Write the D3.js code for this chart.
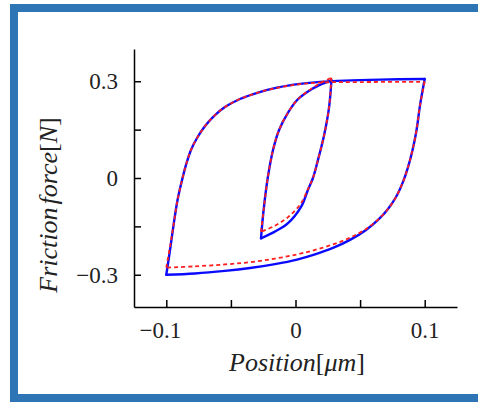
<!DOCTYPE html>
<html>
<head>
<meta charset="utf-8">
<script src="https://cdn.jsdelivr.net/npm/d3@7"></script>
<style>
  html, body { margin: 0; padding: 0; background: #fff; }
  #chart { width: 478px; height: 402px; }
  .axis path, .axis line { stroke: #000; stroke-width: 1.5; }
  .axis text { font-family: "Liberation Serif", serif; font-size: 23px; fill: #222; }
  .label { font-family: "Liberation Serif", serif; font-size: 26px; fill: #222; }
</style>
</head>
<body>
<div id="chart"></div>
<script>
'use strict';

// ticks
const xTicks = [-0.1, -0.05, 0, 0.05, 0.1];
const xTickLabels = ['\u22120.1', '', '0', '', '0.1'];
const yTicks = [-0.3, -0.15, 0, 0.15, 0.3];
const yTickLabels = ['\u22120.3', '', '0', '', '0.3'];

// measured loop (blue, solid) - each branch as [position, force]
const measuredOuterUp = [
    [-0.100, -0.300], [-0.0971, -0.223], [-0.0944, -0.146], [-0.0913, -0.068],
    [-0.0878, -0.006], [-0.0848, 0.040], [-0.0809, 0.087], [-0.0762, 0.124],
    [-0.0700, 0.161], [-0.0631, 0.192], [-0.0546, 0.220], [-0.0430, 0.245],
    [-0.0290, 0.265], [-0.0135, 0.281], [0.0035, 0.292], [0.0190, 0.298],
    [0.0383, 0.302], [0.0654, 0.305], [0.100, 0.307]
];
const measuredOuterDown = [
    [0.100, 0.307], [0.0964, 0.226], [0.0937, 0.149], [0.0906, 0.087],
    [0.0871, 0.034], [0.0832, -0.012], [0.0778, -0.059], [0.0716, -0.096],
    [0.0639, -0.130], [0.0546, -0.161], [0.0422, -0.192], [0.0290, -0.217],
    [0.0151, -0.237], [0.0012, -0.253], [-0.0159, -0.267], [-0.0352, -0.279],
    [-0.0546, -0.288], [-0.0778, -0.296], [-0.100, -0.300]
];
const measuredInnerUp = [
    [-0.0267, -0.187], [-0.0247, -0.100], [-0.0215, 0.000], [-0.0174, 0.087],
    [-0.0127, 0.149], [-0.0059, 0.202], [0.0013, 0.242], [0.0091, 0.267],
    [0.0184, 0.288], [0.0278, 0.303]
];
const measuredInnerDown = [
    [0.0278, 0.303], [0.026, 0.220], [0.022, 0.130], [0.017, 0.050],
    [0.0135, 0.000], [0.0096, -0.037], [0.0044, -0.089], [-0.006, -0.141],
    [-0.0163, -0.167], [-0.0267, -0.187]
];

// model loop (red, dashed)
const modelOuterUp = [
    [-0.100, -0.278], [-0.0971, -0.212], [-0.0944, -0.146], [-0.0913, -0.068],
    [-0.0878, -0.006], [-0.0848, 0.040], [-0.0809, 0.087], [-0.0762, 0.124],
    [-0.0700, 0.161], [-0.0631, 0.192], [-0.0546, 0.220], [-0.0430, 0.245],
    [-0.0290, 0.265], [-0.0135, 0.280], [0.0035, 0.291], [0.0190, 0.296],
    [0.050, 0.2975], [0.100, 0.298]
];
const modelOuterDown = [
    [0.100, 0.298], [0.0964, 0.226], [0.0937, 0.149], [0.0906, 0.087],
    [0.0871, 0.034], [0.0832, -0.012], [0.0778, -0.059], [0.0716, -0.096],
    [0.0639, -0.129], [0.0546, -0.158], [0.0422, -0.185], [0.0290, -0.206],
    [0.0151, -0.223], [0.0012, -0.237], [-0.0159, -0.250], [-0.0352, -0.261],
    [-0.0546, -0.268], [-0.0778, -0.274], [-0.100, -0.278]
];
const modelInnerUp = [
    [-0.0267, -0.167], [-0.0247, -0.100], [-0.0215, 0.000], [-0.0174, 0.087],
    [-0.0127, 0.149], [-0.0059, 0.202], [0.0013, 0.242], [0.0091, 0.268],
    [0.0184, 0.292], [0.0278, 0.311]
];
const modelInnerDown = [
    [0.0278, 0.311], [0.026, 0.220], [0.022, 0.130], [0.017, 0.050],
    [0.0135, 0.000], [0.0096, -0.035], [0.004, -0.080], [-0.006, -0.122],
    [-0.016, -0.148], [-0.0267, -0.167]
];

function drawFrame(svg) {
    // blue slide frame (open on the right)
    let c = '#2e75b6';
    svg.append('rect').attr('x', 10).attr('y', 4).attr('width', 470).attr('height', 8).attr('fill', c);
    svg.append('rect').attr('x', 10).attr('y', 4).attr('width', 8).attr('height', 398).attr('fill', c);
    svg.append('rect').attr('x', 10).attr('y', 394).attr('width', 470).attr('height', 8).attr('fill', c);
}

function hysteresis(container) {
    let margins = { top: 49, left: 134, width: 323, height: 258 };

    let svg = d3.select(container).append('svg')
                .attr('width', 478)
                .attr('height', 402);
    drawFrame(svg);

    let x = d3.scaleLinear().domain([-0.125, 0.125]).range([0, margins.width]);
    let y = d3.scaleLinear().domain([-0.4, 0.4]).range([margins.height, 0]);

    let xAxis = d3.axisBottom(x).tickValues(xTicks)
                  .tickFormat((d, i) => xTickLabels[i])
                  .tickSizeInner(-7).tickSizeOuter(0).tickPadding(15);
    let yAxis = d3.axisLeft(y).tickValues(yTicks)
                  .tickFormat((d, i) => yTickLabels[i])
                  .tickSizeInner(-7).tickSizeOuter(0).tickPadding(16);

    let g = svg.append('g').attr('transform', `translate(${margins.left},${margins.top})`);
    let gx = g.append('g').attr('class', 'x axis')
              .attr('transform', `translate(0,${margins.height})`)
              .call(xAxis);
    g.append('g').attr('class', 'y axis').call(yAxis);
    // negative labels: let the minus hang to the left
    gx.selectAll('text').filter(d => d < 0).attr('dx', '-0.28em');

    let line = d3.line()
                 .x(d => x(d[0]))
                 .y(d => y(d[1]))
                 .curve(d3.curveCatmullRom.alpha(0.5));

    [measuredOuterUp, measuredOuterDown, measuredInnerUp, measuredInnerDown].forEach(b => {
        g.append('path').attr('d', line(b))
         .attr('fill', 'none').attr('stroke', '#0a0aff')
         .attr('stroke-width', 2.4).attr('stroke-linecap', 'round');
    });
    [modelOuterUp, modelOuterDown, modelInnerUp, modelInnerDown].forEach(b => {
        g.append('path').attr('d', line(b))
         .attr('fill', 'none').attr('stroke', '#ff1f1f')
         .attr('stroke-width', 1.8).attr('stroke-dasharray', '4,3');
    });

    // axis titles
    let xt = svg.append('text').attr('class', 'label')
                .attr('x', 297).attr('y', 371).attr('text-anchor', 'middle');
    xt.append('tspan').attr('font-style', 'italic').text('Position');
    xt.append('tspan').text('[');
    xt.append('tspan').attr('font-style', 'italic').text('\u03bcm');
    xt.append('tspan').text(']');

    let yt = svg.append('text').attr('class', 'label')
                .attr('transform', 'translate(57,205) rotate(-90)')
                .attr('text-anchor', 'middle');
    yt.append('tspan').attr('font-style', 'italic').text('Friction');
    yt.append('tspan').attr('font-style', 'italic').attr('dx', 3).text('force');
    yt.append('tspan').text('[');
    yt.append('tspan').attr('font-style', 'italic').text('N');
    yt.append('tspan').text(']');
}

hysteresis(document.getElementById('chart'));
</script>
</body>
</html>
